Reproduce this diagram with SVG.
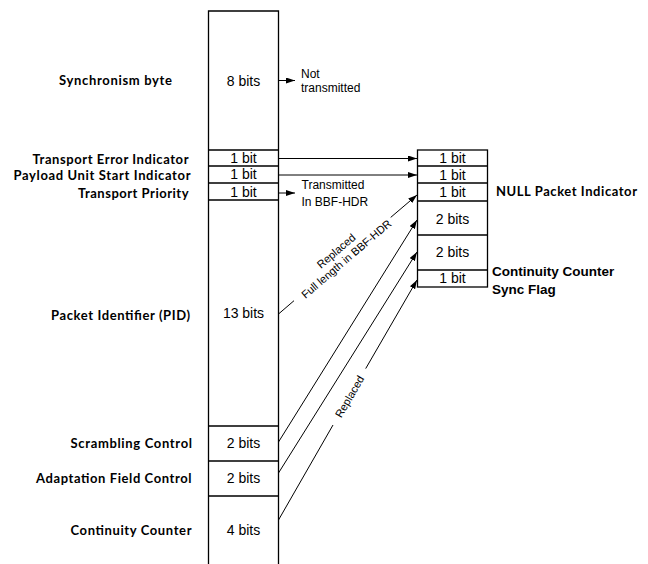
<svg xmlns="http://www.w3.org/2000/svg" width="648" height="564" viewBox="0 0 648 564">
<style>
.box{fill:none;stroke:#000;stroke-width:1.3}
.ln{stroke:#000;stroke-width:1;fill:none}
.lbl{font-family:Lato,"Liberation Sans",sans-serif;font-weight:700;font-size:13px;fill:#000;text-anchor:end}
.cell{font-family:"Liberation Sans",Arial,sans-serif;font-size:14px;fill:#000;text-anchor:middle}
.note{font-family:"Liberation Sans",Arial,sans-serif;font-size:12px;fill:#000}
.rot{font-family:"Liberation Sans",Arial,sans-serif;font-size:11px;fill:#000;text-anchor:middle}
.rlbl{font-family:"Liberation Sans",Arial,sans-serif;font-weight:700;font-size:13.5px;fill:#000}
</style>
<defs>
<marker id="ah" markerUnits="userSpaceOnUse" markerWidth="9" markerHeight="6" refX="9" refY="3" orient="auto">
<path d="M0,0 L9,3 L0,6 z" fill="#000"/>
</marker>
</defs>
<rect width="648" height="564" fill="#fff"/>

<g id="ts-packet">
<path class="box" d="M208.5,564 V11 H278.5 V564"/>
<path class="box" d="M208.5,150 H278.5 M208.5,166 H278.5 M208.5,183 H278.5 M208.5,200 H278.5 M208.5,426 H278.5 M208.5,461 H278.5 M208.5,496 H278.5"/>
</g>

<g id="sync"><text class="lbl" x="172" y="85" textLength="113">Synchronism byte</text><text class="cell" x="243.5" y="85.5">8 bits</text></g>
<g id="tei"><text class="lbl" x="188.5" y="163.5" textLength="156">Transport Error Indicator</text><text class="cell" x="243.5" y="162.5">1 bit</text></g>
<g id="pusi"><text class="lbl" x="190.5" y="180" textLength="177">Payload Unit Start Indicator</text><text class="cell" x="243.5" y="179">1 bit</text></g>
<g id="tp"><text class="lbl" x="188.5" y="197.5" textLength="110.5">Transport Priority</text><text class="cell" x="243.5" y="196.5">1 bit</text></g>
<g id="pid"><text class="lbl" x="190" y="319.5" textLength="139">Packet Identifier (PID)</text><text class="cell" x="243.5" y="318">13 bits</text></g>
<g id="sc"><text class="lbl" x="192" y="448" textLength="121.5">Scrambling Control</text><text class="cell" x="243.5" y="448">2 bits</text></g>
<g id="afc"><text class="lbl" x="191.5" y="483" textLength="155.5">Adaptation Field Control</text><text class="cell" x="243.5" y="483">2 bits</text></g>
<g id="cc"><text class="lbl" x="191.5" y="535" textLength="121">Continuity Counter</text><text class="cell" x="243.5" y="535">4 bits</text></g>

<g id="bbf-hdr">
<rect class="box" x="417.5" y="150" width="70" height="137"/>
<path class="box" d="M417.5,166 H487.5 M417.5,183 H487.5 M417.5,201 H487.5 M417.5,235 H487.5 M417.5,270 H487.5"/>
<text class="cell" x="452.5" y="163">1 bit</text>
<text class="cell" x="452.5" y="179.5">1 bit</text>
<text class="cell" x="452.5" y="197">1 bit</text>
<text class="cell" x="452.5" y="223.5">2 bits</text>
<text class="cell" x="452.5" y="257">2 bits</text>
<text class="cell" x="452.5" y="283">1 bit</text>
</g>
<g id="npi"><text class="lbl" x="637" y="196" textLength="141">NULL Packet Indicator</text></g>
<g id="ccsf"><text class="rlbl" x="492" y="276">Continuity Counter</text><text class="rlbl" x="492" y="294">Sync Flag</text></g>

<g id="connectors">
<line class="ln" x1="278.5" y1="80.5" x2="295" y2="80.5" marker-end="url(#ah)"/>
<line class="ln" x1="278.5" y1="158.5" x2="417" y2="158.5" marker-end="url(#ah)"/>
<line class="ln" x1="278.5" y1="175" x2="417" y2="175" marker-end="url(#ah)"/>
<line class="ln" x1="278.5" y1="193" x2="295" y2="193" marker-end="url(#ah)"/>
<line class="ln" x1="278.5" y1="314" x2="294" y2="300.7"/>
<line class="ln" x1="390.7" y1="217.4" x2="417" y2="195" marker-end="url(#ah)"/>
<line class="ln" x1="278.5" y1="442" x2="417" y2="220" marker-end="url(#ah)"/>
<line class="ln" x1="278.5" y1="473" x2="417" y2="252" marker-end="url(#ah)"/>
<line class="ln" x1="278.5" y1="520" x2="333" y2="425"/>
<line class="ln" x1="365.7" y1="368.6" x2="417" y2="280" marker-end="url(#ah)"/>
</g>

<g id="notes">
<text class="note" x="301" y="78">Not</text>
<text class="note" x="301" y="92">transmitted</text>
<text class="note" x="301.5" y="189">Transmitted</text>
<text class="note" x="301.5" y="205.5">In BBF-HDR</text>
<g transform="translate(343,259) rotate(-40.6)">
<text class="rot" x="0" y="-6.7">Replaced</text>
<text class="rot" x="2.5" y="6">Full length in BBF-HDR</text>
</g>
<text class="rot" transform="translate(349.5,396.5) rotate(-59.9)" x="0" y="4">Replaced</text>
</g>
</svg>
